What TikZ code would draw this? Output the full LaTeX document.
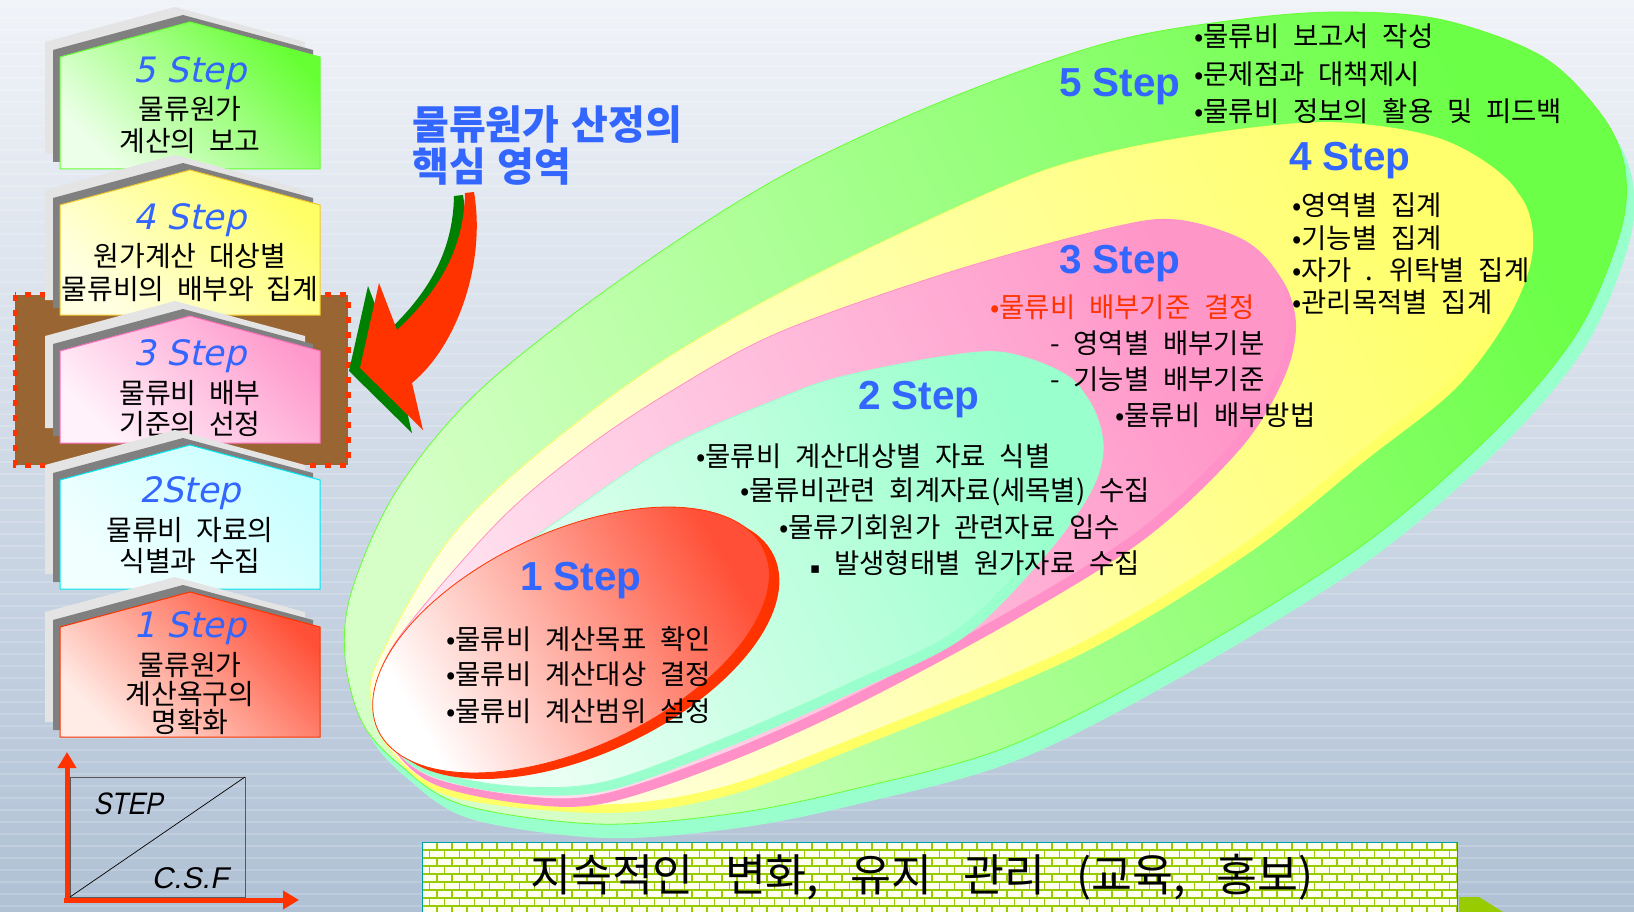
\documentclass[tikz,border=0pt]{standalone}
\usepackage{fontspec}
\usetikzlibrary{arrows.meta}
\newfontfamily\kr{Noto Sans CJK KR}
\newfontfamily\lsans{Liberation Sans}
\newfontfamily\boxstepfont[FakeSlant=0.22]{DejaVu Sans}
\newfontfamily\condit[FakeSlant=0.2,FakeStretch=0.85]{Liberation Sans}
\newfontfamily\slit[FakeSlant=0.2]{Liberation Sans}
\newfontfamily\dejavu{DejaVu Sans}

\definecolor{stepblue}{RGB}{51,102,255}
\definecolor{bgtop}{RGB}{240,243,248}
\definecolor{bgbot}{RGB}{176,193,213}
\definecolor{redor}{RGB}{255,51,0}
\definecolor{brownbox}{RGB}{153,102,51}
\definecolor{shadowdark}{RGB}{128,128,128}
\definecolor{shadowlight}{RGB}{228,228,228}
\definecolor{grn}{RGB}{102,255,51}
\definecolor{grnpale}{RGB}{236,255,232}
\definecolor{yel}{RGB}{255,255,102}
\definecolor{yelpale}{RGB}{255,255,226}
\definecolor{yelborder}{RGB}{240,200,40}
\definecolor{pnk}{RGB}{255,153,204}
\definecolor{pnkpale}{RGB}{255,242,250}
\definecolor{pnkborder}{RGB}{255,110,190}
\definecolor{cya}{RGB}{200,255,255}
\definecolor{cyapale}{RGB}{242,255,255}
\definecolor{cyaborder}{RGB}{0,230,240}
\definecolor{rd}{RGB}{255,80,55}
\definecolor{rdpale}{RGB}{255,236,230}
\definecolor{mint}{RGB}{153,255,204}
\definecolor{mintpale}{RGB}{242,255,248}
\definecolor{egrn}{RGB}{108,255,72}
\definecolor{egrnpale}{RGB}{214,255,200}
\definecolor{eyel}{RGB}{255,255,110}
\definecolor{eyelpale}{RGB}{255,255,225}
\definecolor{epnk}{RGB}{255,150,200}
\definecolor{epnkpale}{RGB}{255,228,240}
\definecolor{pnkedge}{RGB}{255,145,200}
\definecolor{mortar}{RGB}{153,204,0}
\definecolor{brickwhite}{RGB}{255,255,240}
\definecolor{arrowgreen}{RGB}{0,128,0}

\newcommand\stepbox[5]{%
  \fill[shadowlight] (45,{#2-15}) -- (45,{#1+20}) -- (175,{#1-15}) -- (305,{#1+20}) -- (305,{#2-15}) -- cycle;
  \fill[shadowdark] (53,{#2-7}) -- (53,{#1+28}) -- (183,{#1-7}) -- (313,{#1+28}) -- (313,{#2-7}) -- cycle;
  \shade[top color=#3, bottom color=#4, shading angle=-45, draw=#5, line width=1]
    (60,#2) -- (60,{#1+35}) -- (190,#1) -- (320,{#1+35}) -- (320,#2) -- cycle;
}

\begin{document}
\begin{tikzpicture}[x=1pt,y=-1pt,
  item/.style={inner sep=0pt, anchor=west, font={\kr\fontsize{27.5}{32}\selectfont\spaceskip=0.5em\relax}},
  bigstep/.style={inner sep=0pt, text=stepblue, font={\lsans\bfseries\fontsize{40.5}{44}\selectfont}},
  boxstep/.style={inner sep=0pt, text=stepblue, font={\boxstepfont\fontsize{35}{38}\selectfont}},
  boxtxt/.style={inner sep=0pt, font={\kr\fontsize{28}{32}\selectfont\spaceskip=0.45em\relax}},
  titletxt/.style={inner sep=0pt, anchor=west, text=stepblue, font={\kr\bfseries\fontsize{40}{44}\selectfont\spaceskip=0.3em\relax}},
  axisarrow/.style={draw=redor, line width=5pt, -{Triangle[length=16pt,width=18pt]}},
  brickline/.style={draw=mortar, line width=1.5pt},
]
\useasboundingbox (0,0) rectangle (1634,912);
\clip (0,0) rectangle (1634,912);

% background
\shade[top color=bgtop, bottom color=bgbot] (0,0) rectangle (1634,912);
\foreach \yy in {6,18,...,906} \draw[white, opacity=0.16, line width=1.5pt] (0,\yy) -- (1634,\yy);

% highlighted frame behind 3 Step
\draw[fill=brownbox, draw=redor, line width=5pt, dash pattern=on 6pt off 9pt] (15,295) rectangle (348,465);

% step boxes (top to bottom)
\stepbox{22}{169}{grn}{grnpale}{grn}
\node[boxstep] (b5s) at (190,73) {5 Step};
\node[boxtxt] (b5a) at (190,109) {물류원가};
\node[boxtxt] (b5b) at (190,141) {계산의 보고};

\stepbox{170}{315}{yel}{yelpale}{yelborder}
\node[boxstep] (b4s) at (190,220) {4 Step};
\node[boxtxt] (b4a) at (190,256) {원가계산 대상별};
\node[boxtxt] (b4b) at (190,289) {물류비의 배부와 집계};

\stepbox{316}{443}{pnk}{pnkpale}{pnkborder}
\node[boxstep] (b3s) at (190,356) {3 Step};
\node[boxtxt] (b3a) at (190,393) {물류비 배부};
\node[boxtxt] (b3b) at (190,424) {기준의 선정};

\stepbox{445}{589}{cya}{cyapale}{cyaborder}
\node[boxstep] (b2s) at (190,493) {2Step};
\node[boxtxt] (b2a) at (190,530) {물류비 자료의};
\node[boxtxt] (b2b) at (190,561) {식별과 수집};

\stepbox{592}{737}{rd}{rdpale}{redor}
\node[boxstep] (b1s) at (190,628) {1 Step};
\node[boxtxt] (b1a) at (190,665) {물류원가};
\node[boxtxt] (b1b) at (190,694) {계산욕구의};
\node[boxtxt] (b1c) at (190,722) {명확화};

% STEP / C.S.F axes
\draw[draw=black!65, line width=0.8pt] (70,777) rectangle (245,897);
\coordinate (dlo) at (70,897);
\coordinate (dhi) at (245,777);
\draw[black, line width=0.7pt] (dlo) -- (dhi);
\coordinate (org) at (67,902);
\coordinate (org2) at (64,900);
\coordinate (ytip) at (67,752);
\coordinate (xtip) at (299,900);
\draw[axisarrow] (org) -- (ytip);
\draw[axisarrow] (org2) -- (xtip);
\node[inner sep=0, font={\condit\fontsize{31}{33}\selectfont}] (lstep) at (128,804) {STEP};
\node[inner sep=0, font={\slit\fontsize{30}{32}\selectfont}] (lcsf) at (190,878) {C.S.F};

% title
\node[titletxt] (title1) at (412,125) {물류원가 산정의};
\node[titletxt] (title2) at (412,167) {핵심 영역};

% curved block arrow
\begin{scope}[shift={(-11,3)}]
\fill[arrowgreen] (474,192) .. controls (486,262) and (458,345) .. (412,383) -- (423,430) -- (360,368) -- (379,283) -- (397,330) .. controls (438,292) and (464,250) .. (465,193) -- cycle;
\end{scope}
\fill[redor] (474,192) .. controls (486,262) and (458,345) .. (412,383) -- (423,430) -- (360,368) -- (379,283) -- (397,330) .. controls (438,292) and (464,250) .. (465,193) -- cycle;

% ---- nested egg shapes ----
% 5 step (outer)
\begin{scope}[shift={(8,14)}]
\fill[mint] plot[smooth cycle, tension=0.55] coordinates {(1343,12) (1243,19) (1110,42) (950,98) (780,177) (620,280) (480,390) (397,490) (352,590) (345,657) (362,722) (400,765) (463,805) (597,824) (730,814) (850,790) (1007,747) (1173,663) (1360,547) (1493,433) (1577,333) (1620,233) (1625,170) (1603,117) (1543,57) (1443,20)};
\end{scope}
\shade[top color=egrn, bottom color=egrnpale, shading angle=-65, draw=grn, line width=0.8pt] plot[smooth cycle, tension=0.55] coordinates {(1343,12) (1243,19) (1110,42) (950,98) (780,177) (620,280) (480,390) (397,490) (352,590) (345,657) (362,722) (400,765) (463,805) (597,824) (730,814) (850,790) (1007,747) (1173,663) (1360,547) (1493,433) (1577,333) (1620,233) (1625,170) (1603,117) (1543,57) (1443,20)};

% 4 step
\begin{scope}[shift={(6,8)}]
\fill[yel] plot[smooth cycle, tension=0.55] coordinates {(1343,123) (1243,129) (1110,152) (1000,188) (780,293) (620,390) (463,523) (380,657) (372,705) (392,752) (450,790) (600,805) (720,788) (850,740) (1073,647) (1240,547) (1360,452) (1450,380) (1505,305) (1527,240) (1512,185) (1443,140)};
\end{scope}
\shade[top color=eyel, bottom color=eyelpale, shading angle=-65, draw=yel, line width=0.8pt] plot[smooth cycle, tension=0.55] coordinates {(1343,123) (1243,129) (1110,152) (1000,188) (780,293) (620,390) (463,523) (380,657) (372,705) (392,752) (450,790) (600,805) (720,788) (850,740) (1073,647) (1240,547) (1360,452) (1450,380) (1505,305) (1527,240) (1512,185) (1443,140)};

% 3 step
\begin{scope}[shift={(6,8)}]
\fill[pnkedge] plot[smooth cycle, tension=0.55] coordinates {(1177,220) (1110,228) (950,272) (780,332) (673,390) (583,450) (497,523) (397,640) (377,695) (387,740) (430,777) (520,796) (600,795) (720,755) (850,697) (1007,613) (1140,530) (1235,440) (1278,370) (1290,317) (1277,273) (1243,240)};
\end{scope}
\shade[top color=epnk, bottom color=epnkpale, shading angle=-65, draw=pnkedge, line width=0.8pt] plot[smooth cycle, tension=0.55] coordinates {(1177,220) (1110,228) (950,272) (780,332) (673,390) (583,450) (497,523) (397,640) (377,695) (387,740) (430,777) (520,796) (600,795) (720,755) (850,697) (1007,613) (1140,530) (1235,440) (1278,370) (1290,317) (1277,273) (1243,240)};

% 2 step
\begin{scope}[shift={(6,8)}]
\fill[mint] plot[smooth cycle, tension=0.55] coordinates {(1007,353) (940,357) (840,377) (780,398) (663,450) (530,540) (430,607) (387,670) (383,728) (418,765) (500,785) (600,783) (720,740) (850,683) (957,630) (1040,547) (1087,480) (1097,430) (1073,380)};
\end{scope}
\shade[top color=mint, bottom color=mintpale, shading angle=-65, draw=mint, line width=0.8pt] plot[smooth cycle, tension=0.55] coordinates {(1007,353) (940,357) (840,377) (780,398) (663,450) (530,540) (430,607) (387,670) (383,728) (418,765) (500,785) (600,783) (720,740) (850,683) (957,630) (1040,547) (1087,480) (1097,430) (1073,380)};

% 1 step (red ellipse)
\fill[redor] plot[domain=0:360, samples=121, variable=\t] ({581+213*cos(\t)*cos(25)-108*sin(\t)*sin(25)}, {646-213*cos(\t)*sin(25)-108*sin(\t)*cos(25)}) -- cycle;
\shade[top color=rd, middle color=rd!45!white, bottom color=white, shading angle=-60, draw=redor, line width=0.8pt] plot[domain=0:360, samples=121, variable=\t] ({571+213*cos(\t)*cos(25)-108*sin(\t)*sin(25)}, {640-213*cos(\t)*sin(25)-108*sin(\t)*cos(25)}) -- cycle;

% ---- texts in the shapes ----
\node[bigstep] (e5) at (1120,87) {5 Step};
\node[item] (e5a) at (1194,36) {•물류비 보고서 작성};
\node[item] (e5b) at (1194,74) {•문제점과 대책제시};
\node[item] (e5c) at (1194,111) {•물류비 정보의 활용 및 피드백};

\node[bigstep] (e4) at (1350,161) {4 Step};
\node[item] (e4a) at (1292,205) {•영역별 집계};
\node[item] (e4b) at (1292,238) {•기능별 집계};
\node[item] (e4c) at (1292,270) {•자가 . 위탁별 집계};
\node[item] (e4d) at (1292,302) {•관리목적별 집계};

\node[bigstep] (e3) at (1120,264) {3 Step};
\node[item, text=redor] (e3a) at (990,307) {•물류비 배부기준 결정};
\node[item] (e3b) at (1050,343) {- 영역별 배부기분};
\node[item] (e3c) at (1050,379) {- 기능별 배부기준};
\node[item] (e3d) at (1115,415) {•물류비 배부방법};

\node[bigstep] (e2) at (919,400) {2 Step};
\node[item] (e2a) at (696,456) {•물류비 계산대상별 자료 식별};
\node[item] (e2b) at (740,492) {•물류비관련 회계자료(세목별) 수집};
\node[item] (e2c) at (779,527) {•물류기회원가 관련자료 입수};
\node[item] (e2d) at (810,563) {{\dejavu\fontsize{15}{15}\selectfont ▪} 발생형태별 원가자료 수집};

\node[bigstep] (e1) at (581,581) {1 Step};
\node[item] (e1a) at (446,639) {•물류비 계산목표 확인};
\node[item] (e1b) at (446,674) {•물류비 계산대상 결정};
\node[item] (e1c) at (446,711) {•물류비 계산범위 설정};

% ---- brick banner ----
\begin{scope}
\clip (422,842) rectangle (1457,912);
\fill[brickwhite] (422,842) rectangle (1457,912);
\foreach \r [evaluate=\r as \off using {mod(\r,2)*7.5}] in {0,...,8} {
  \draw[brickline] (422,{842+8*\r}) -- (1457,{842+8*\r});
  \foreach \k in {0,...,69}
    \draw[brickline] ({422+\off+15*\k},{842+8*\r}) -- ({422+\off+15*\k},{850+8*\r});
}
\end{scope}
\draw[draw=cyaborder!70!black, line width=0.8pt] (422,912) -- (422,842) -- (1457,842) -- (1457,912);
\node[inner sep=0, font={\kr\fontsize{44.5}{48}\selectfont\spaceskip=0.7em\relax}] (banner) at (922,877) {지속적인 변화, 유지 관리 (교육, 홍보)};
\fill[mortar] (1459,897) -- (1479,897) -- (1503,912) -- (1459,912) -- cycle;
\end{tikzpicture}
\end{document}
